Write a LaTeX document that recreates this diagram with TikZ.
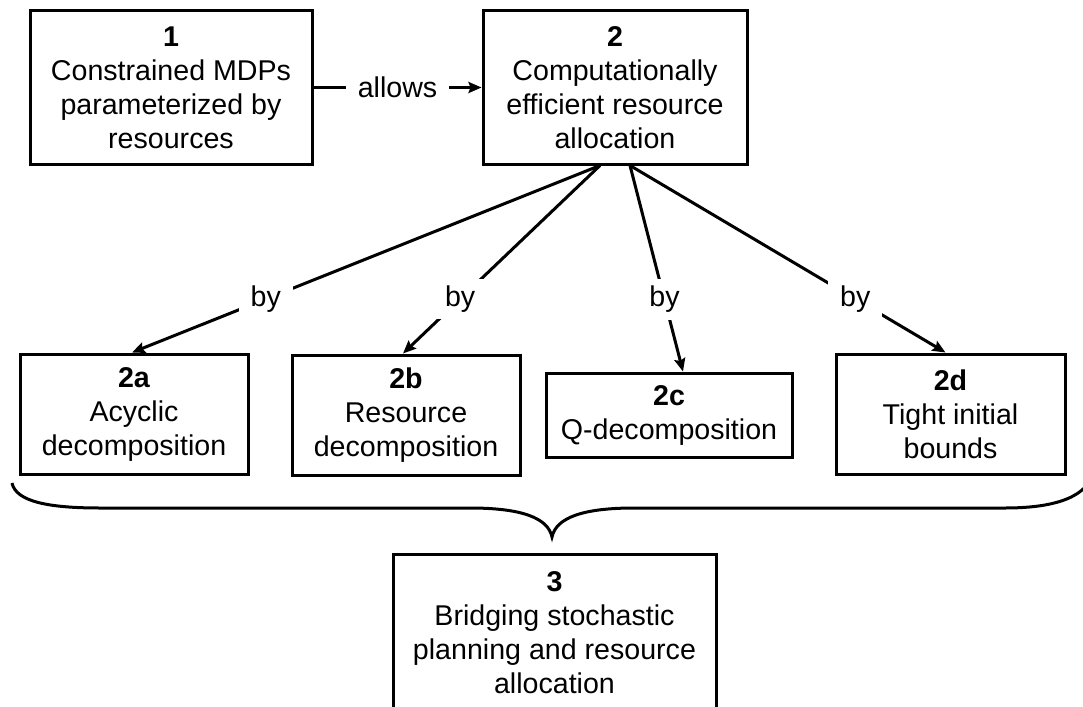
\documentclass[tikz,border=0pt]{standalone}
\usepackage{fontspec}
\setmainfont{Liberation Sans}
\usetikzlibrary{arrows.meta}
\begin{document}
\begin{tikzpicture}[x=1pt,y=-1pt,
  line width=3pt,
  font=\fontsize{28.6}{34}\selectfont,
  box/.style={draw, line width=3pt, align=center, inner sep=0pt},
  link/.style={line width=3pt, -{Stealth[length=13pt,width=11pt,inset=2pt]}},
  lbl/.style={fill=white, inner xsep=12pt, inner ysep=7pt}
]
\useasboundingbox (0,0) rectangle (1083,706);
\clip (0,0) rectangle (1083,706);

% top row
\node[box, minimum width=282pt, minimum height=153pt] (b1) at (171,87.5)
  {\textbf{1}\\Constrained MDPs\\parameterized by\\resources};
\node[box, minimum width=264pt, minimum height=153pt] (b2) at (615,87.5)
  {\textbf{2}\\Computationally\\efficient resource\\allocation};

% middle row
\node[box, minimum width=228pt, minimum height=120pt] (b2a) at (134,414)
  {\textbf{2a}\\Acyclic\\decomposition};
\node[box, minimum width=228pt, minimum height=120pt] (b2b) at (406,415)
  {\textbf{2b}\\Resource\\decomposition};
\node[box, minimum width=246pt, minimum height=84pt] (b2c) at (669,415)
  {\textbf{2c}\\Q-decomposition};
\node[box, minimum width=229pt, minimum height=120pt] (b2d) at (950.5,414)
  {\textbf{2d}\\Tight initial\\bounds};

% bottom box
\node[box, minimum width=323pt, minimum height=158pt] (b3) at (554.5,633)
  {\textbf{3}\\Bridging stochastic\\planning and resource\\allocation};

% connectors
\draw[link] (b1.east) -- node[lbl] {allows} (b2.west);
\draw[link] ([xshift=-15pt]b2.south) -- node[lbl, pos=0.714] {by} ([xshift=-2pt]b2a.north);
\draw[link] ([xshift=-15pt]b2.south) -- node[lbl, pos=0.71] {by} ([xshift=-3pt]b2b.north);
\draw[link] ([xshift=15pt]b2.south) -- node[lbl, pos=0.65] {by} ([xshift=14pt]b2c.north);
\draw[link] ([xshift=15pt]b2.south) -- node[lbl, pos=0.714] {by} ([xshift=-5pt]b2d.north);

% brace grouping the middle row
\draw[line width=3pt]
  (12,483) .. controls (16,502) and (50,508) .. (100,508)
  -- (470,508) .. controls (522,508) and (548,518) .. (552,537)
  .. controls (556,518) and (582,508) .. (634,508)
  -- (1005,508) .. controls (1048,508) and (1074,500) .. (1086,486);
\end{tikzpicture}
\end{document}
